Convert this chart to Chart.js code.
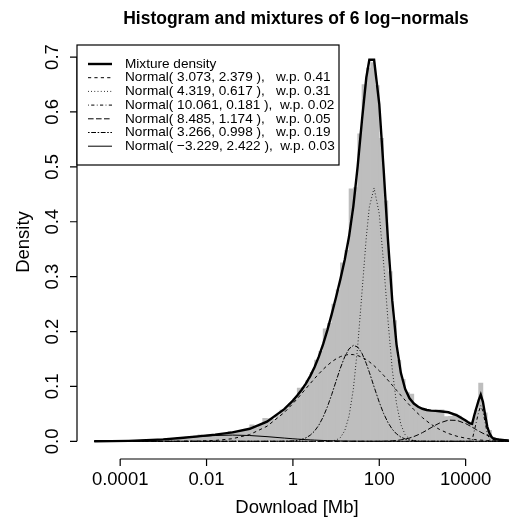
<!DOCTYPE html>
<html>
<head>
<meta charset="utf-8">
<script src="https://cdn.jsdelivr.net/npm/chart.js@4.4.1/dist/chart.umd.min.js"></script>
<style>
  body { margin: 0; background: #fff; }
  #wrap { width: 514px; height: 523px; }
</style>
</head>
<body>
<div id="wrap"><canvas id="mixChart" width="514" height="523"></canvas></div>
<script>
// x is log10(download in Mb)
const xTicks = [-4, -2, 0, 2, 4];
const xTickLabels = ["0.0001", "0.01", "1", "100", "10000"];
const yTicks = [0, 0.1, 0.2, 0.3, 0.4, 0.5, 0.6, 0.7];
const yTickLabels = ["0.0", "0.1", "0.2", "0.3", "0.4", "0.5", "0.6", "0.7"];

// histogram bins (centers, width 0.1)
const histMid = [-4.55,-4.45,-4.35,-4.25,-4.15,-4.05,-3.95,-3.85,-3.75,-3.65,-3.55,-3.45,-3.35,-3.25,-3.15,-3.05,
  -2.95,-2.85,-2.75,-2.65,-2.55,-2.45,-2.35,-2.25,-2.15,-2.05,-1.95,-1.85,-1.75,-1.65,-1.55,-1.45,-1.35,-1.25,-1.15,-1.05,
  -0.95,-0.85,-0.75,-0.65,-0.55,-0.45,-0.35,-0.25,-0.15,-0.05,0.05,0.15,0.25,0.35,0.45,0.55,0.65,0.75,0.85,0.95,
  1.05,1.15,1.25,1.35,1.45,1.55,1.65,1.75,1.85,1.95,2.05,2.15,2.25,2.35,2.45,2.55,2.65,2.75,2.85,2.95,
  3.05,3.15,3.25,3.35,3.45,3.55,3.65,3.75,3.85,3.95,4.05,4.15,4.25,4.35,4.45,4.55,4.65,4.75,4.85,4.95];
const histDensity = [0.0002,0.0000,0.0002,0.0004,0.0002,0.0006,0.0004,0.0009,0.0011,0.0008,0.0016,0.0013,0.0022,0.0028,0.0024,0.0037,
  0.0041,0.0038,0.0053,0.0062,0.0059,0.0076,0.0072,0.0094,0.0118,0.0099,0.0115,0.0124,0.0119,0.0146,0.0138,0.0182,0.0178,0.0170,0.0206,0.0212,
  0.0300,0.0252,0.0291,0.0420,0.0415,0.0402,0.0468,0.0570,0.0598,0.0690,0.0775,0.0970,0.0985,0.1108,0.1255,0.1480,0.1640,0.2050,0.2150,0.2500,
  0.2760,0.3250,0.3480,0.4600,0.4620,0.5600,0.6500,0.6800,0.6900,0.6480,0.5520,0.4380,0.3090,0.2200,0.1480,0.1130,0.0890,0.0860,0.0650,0.0605,
  0.0590,0.0560,0.0548,0.0570,0.0575,0.0450,0.0455,0.0500,0.0460,0.0400,0.0345,0.0350,0.0570,0.1060,0.0520,0.0200,0.0070,0.0035,0.0020,0.0012];

// curve sample points
const gridT = [-4.6,-4.2,-3.8,-3.4,-3.0,-2.6,-2.2,-1.8,-1.4,-1.0,-0.6,-0.2,
  0.0,0.1,0.2,0.3,0.4,0.5,0.6,0.7,0.8,0.9,1.0,1.1,1.2,1.3,1.4,1.5,1.6,1.7,1.77,1.88,
  2.0,2.1,2.2,2.3,2.4,2.5,2.6,2.7,2.8,2.9,3.0,3.1,3.2,3.3,3.4,3.6,3.8,
  4.0,4.05,4.1,4.15,4.2,4.25,4.3,4.35,4.4,4.45,4.5,4.55,4.6,4.65,4.7,4.8,4.9,5.0];
const mixture = [0.0001,0.0003,0.00085,0.0019,0.0036,0.0061,0.0090,0.0122,0.0162,0.0229,0.0359,0.0586,
  0.0742,0.0833,0.0935,0.1052,0.1188,0.1350,0.1542,0.1769,0.2031,0.2321,0.2630,0.2955,0.3307,0.3730,0.4285,0.5011,0.5854,0.6627,0.695,0.695,
  0.6144,0.4966,0.3683,0.2571,0.1762,0.1248,0.0951,0.0784,0.0689,0.0630,0.0593,0.0571,0.0559,0.0554,0.0549,0.0529,0.0473,
  0.0380,0.0353,0.0328,0.0318,0.0475,0.0610,0.0745,0.0850,0.0720,0.0490,0.0270,0.0150,0.0080,0.0045,0.0035,0.0028,0.0021,0.0015];
const comp1 = [0,0,0,0,0.00002,0.00011,0.00046,0.00159,0.00477,0.01232,0.02743,0.05254,
  0.06873,0.07752,0.08662,0.09588,0.10515,0.11423,0.12294,0.13109,0.13847,0.14490,0.15021,0.15427,0.15696,0.15821,0.15798,0.15629,0.15316,0.14870,0.14485,0.13771,
  0.12865,0.12031,0.11147,0.10230,0.09302,0.08380,0.07478,0.06611,0.05790,0.05024,0.04318,0.03678,0.03102,0.02593,0.02146,0.01431,0.00919,
  0.00568,0.00501,0.00440,0.00387,0.00338,0.00296,0.00258,0.00224,0.00194,0.00168,0.00145,0.00125,0.00107,0.00092,0.00079,0.00057,0.00041,0.00029];
const comp2 = [0,0,0,0,0,0,0,0,0,0,0,0,
  0,0,0,0,0,0,0.00001,0.00003,0.00015,0.00061,0.00221,0.00699,0.01920,0.04590,0.09547,0.17270,0.27184,0.37224,0.42696,0.46144,
  0.41442,0.32512,0.22188,0.13174,0.06806,0.03059,0.01196,0.00407,0.00120,0.00031,0.00007,0.00001,0,0,0,0,0,
  0,0,0,0,0,0,0,0,0,0,0,0,0,0,0,0,0,0];
const comp3 = [0,0,0,0,0,0,0,0,0,0,0,0,
  0,0,0,0,0,0,0,0,0,0,0,0,0,0,0,0,0,0,0,0,
  0,0,0,0,0,0,0,0,0,0,0,0,0,0,0,0,0,
  0,0,0,0.002,0.019,0.036,0.053,0.065,0.055,0.035,0.015,0.004,0.001,0,0,0,0,0];
const comp4 = [0,0,0,0,0,0,0,0,0,0,0,0,
  0,0,0,0,0,0,0,0,0,0,0,0,0,0,0,0,0,0.00002,0.00004,0.00007,
  0.00017,0.00031,0.00056,0.00098,0.00163,0.00263,0.00406,0.00605,0.00867,0.01196,0.01587,0.02026,0.02489,0.02942,0.03346,0.03858,0.03814,
  0.03232,0.03028,0.02809,0.02581,0.02349,0.02117,0.01890,0.01671,0.01463,0.01269,0.01090,0.00928,0.00782,0.00653,0.00539,0.00358,0.00229,0.00141];
const comp5 = [0,0,0,0,0,0,0,0,0,0,0,0.00016,
  0.00083,0.00171,0.00336,0.00627,0.01106,0.01852,0.02941,0.04428,0.06320,0.08553,0.10975,0.13352,0.15403,0.16848,0.17472,0.17181,0.16019,0.14161,0.12586,0.09919,
  0.07108,0.05078,0.03440,0.02210,0.01346,0.00777,0.00426,0.00221,0.00109,0.00051,0.00023,0.00009,0.00004,0,0,0,0,
  0,0,0,0,0,0,0,0,0,0,0,0,0,0,0,0,0,0];
const comp6 = [0.00011,0.00033,0.00085,0.00187,0.00359,0.00595,0.00853,0.01059,0.01138,0.01058,0.00851,0.00592,
  0.00468,0.00410,0.00357,0.00307,0.00262,0.00222,0.00186,0.00154,0.00127,0.00104,0.00084,0.00067,0.00053,0.00042,0.00033,0.00025,0.00019,0.00015,0.00012,0.00009,
  0.00006,0.00004,0.00003,0.00002,0.00002,0.00001,0,0,0,0,0,0,0,0,0,0,0,
  0,0,0,0,0,0,0,0,0,0,0,0,0,0,0,0,0,0];

const legendLabels = [
  "Mixture density",
  "Normal( 3.073, 2.379 ),   w.p. 0.41",
  "Normal( 4.319, 0.617 ),   w.p. 0.31",
  "Normal( 10.061, 0.181 ),  w.p. 0.02",
  "Normal( 8.485, 1.174 ),   w.p. 0.05",
  "Normal( 3.266, 0.998 ),   w.p. 0.19",
  "Normal( \u22123.229, 2.422 ),  w.p. 0.03"
];
const legendDash = [[], [3.2, 3.2], [0.8, 2.4], [0.8, 2.4, 3.2, 2.4], [5.6, 2.4], [1.6, 1.6, 4.8, 1.6], []];
const legendWidth = [2.4, 1, 1, 1, 1, 1, 1];

const FONT = "'Liberation Sans', Arial, Helvetica, sans-serif";

const pts = ys => gridT.map((t, i) => ({ x: t, y: ys[i] }));
const curve = (label, ys, i) => ({
  type: "line", label: label, data: pts(ys),
  borderColor: "#000", borderWidth: legendWidth[i], borderDash: legendDash[i],
  pointRadius: 0, tension: 0, fill: false, order: 1
});

// R-style axes, titles and legend
const rStyle = {
  id: "rStyle",
  afterDraw(chart) {
    const { ctx, scales: { x, y } } = chart;
    ctx.save();
    ctx.strokeStyle = "#000";
    ctx.fillStyle = "#000";
    ctx.lineWidth = 1.2;

    // x axis
    const ay = 459;
    ctx.beginPath();
    ctx.moveTo(x.getPixelForValue(xTicks[0]), ay);
    ctx.lineTo(x.getPixelForValue(xTicks[xTicks.length - 1]), ay);
    xTicks.forEach(v => {
      const px = x.getPixelForValue(v);
      ctx.moveTo(px, ay);
      ctx.lineTo(px, ay + 7);
    });
    ctx.stroke();
    ctx.font = "18.5px " + FONT;
    ctx.textAlign = "center";
    ctx.textBaseline = "alphabetic";
    xTicks.forEach((v, i) => ctx.fillText(xTickLabels[i], x.getPixelForValue(v), 485));
    ctx.fillText("Download [Mb]", 297, 513);

    // y axis
    const ax = 77;
    ctx.beginPath();
    ctx.moveTo(ax, y.getPixelForValue(yTicks[0]));
    ctx.lineTo(ax, y.getPixelForValue(yTicks[yTicks.length - 1]));
    yTicks.forEach(v => {
      const py = y.getPixelForValue(v);
      ctx.moveTo(ax, py);
      ctx.lineTo(ax - 7, py);
    });
    ctx.stroke();
    yTicks.forEach((v, i) => {
      ctx.save();
      ctx.translate(58, y.getPixelForValue(v));
      ctx.rotate(-Math.PI / 2);
      ctx.fillText(yTickLabels[i], 0, 0);
      ctx.restore();
    });
    ctx.save();
    ctx.translate(29, 242);
    ctx.rotate(-Math.PI / 2);
    ctx.fillText("Density", 0, 0);
    ctx.restore();

    // title
    ctx.font = "bold 17.5px " + FONT;
    ctx.fillText("Histogram and mixtures of 6 log\u2212normals", 296, 24);

    // legend
    const bx = 77, by = 45, bw = 262, bh = 120;
    ctx.fillStyle = "#fff";
    ctx.fillRect(bx, by, bw, bh);
    ctx.lineWidth = 1.2;
    ctx.strokeRect(bx, by, bw, bh);
    ctx.fillStyle = "#000";
    ctx.font = "13.6px " + FONT;
    ctx.textAlign = "left";
    ctx.textBaseline = "middle";
    legendLabels.forEach((lab, i) => {
      const ry = 64 + i * 13.7;
      ctx.beginPath();
      ctx.setLineDash(legendDash[i]);
      ctx.lineWidth = legendWidth[i];
      ctx.moveTo(88, ry);
      ctx.lineTo(112, ry);
      ctx.stroke();
      ctx.setLineDash([]);
      ctx.fillText(lab, 125, ry);
    });
    ctx.restore();
  }
};

new Chart(document.getElementById("mixChart"), {
  type: "line",
  data: {
    datasets: [
      curve("Mixture density", mixture, 0),
      curve("Normal( 3.073, 2.379 )", comp1, 1),
      curve("Normal( 4.319, 0.617 )", comp2, 2),
      curve("Normal( 10.061, 0.181 )", comp3, 3),
      curve("Normal( 8.485, 1.174 )", comp4, 4),
      curve("Normal( 3.266, 0.998 )", comp5, 5),
      curve("Normal( -3.229, 2.422 )", comp6, 6),
      {
        type: "bar", label: "Histogram",
        data: histMid.map((t, i) => ({ x: t, y: histDensity[i] })),
        backgroundColor: "#bebebe", borderWidth: 0,
        barPercentage: 1, categoryPercentage: 1, order: 10
      }
    ]
  },
  options: {
    responsive: false,
    animation: false,
    devicePixelRatio: 1,
    layout: { padding: { left: 77, right: 0, top: 44.4, bottom: 66.3 } },
    scales: {
      x: { type: "linear", min: -5.0, max: 5.12, offset: false, display: false },
      y: { type: "linear", min: -0.028, max: 0.723, display: false }
    },
    plugins: {
      legend: { display: false },
      tooltip: { enabled: false },
      title: { display: false }
    }
  },
  plugins: [rStyle]
});
</script>
</body>
</html>
